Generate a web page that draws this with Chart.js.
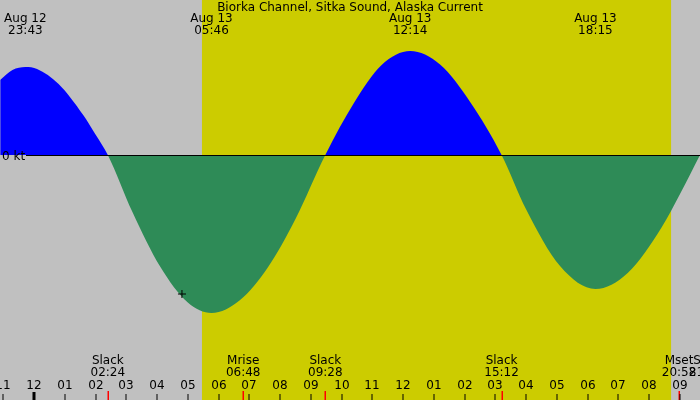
<!DOCTYPE html>
<html>
<head>
<meta charset="utf-8">
<script src="https://cdn.jsdelivr.net/npm/chart.js@4.4.0/dist/chart.umd.min.js"></script>
<style>
  html, body { margin: 0; padding: 0; background: #c0c0c0; }
  #wrap { width: 700px; height: 400px; }
</style>
</head>
<body>
<div id="wrap"><canvas id="tideChart" width="700" height="400"></canvas></div>
<script>
// Hours from midnight Aug 13, current speed in knots
const hours = [-1.1, -0.7, -0.28, 0.1, 0.8, 1.6, 2.0, 2.4, 3.2, 4.1, 5.0, 5.77, 6.7, 7.6, 8.5, 9.47,
               10.4, 11.3, 12.23, 13.2, 14.2, 15.2, 16.0, 17.1, 18.25, 19.3, 20.4, 21.0, 21.65];
const knots = [1.5, 1.7, 1.76, 1.72, 1.42, 0.8, 0.41, 0, -1.14, -2.23, -2.95, -3.16, -2.9, -2.25, -1.28, 0,
               1.04, 1.8, 2.08, 1.81, 1.04, 0, -1.09, -2.22, -2.68, -2.36, -1.45, -0.78, 0];

// extremes shown along the top
const peakHours = [-0.28, 5.77, 12.23, 18.25];
const peakLabels = [['Aug 12', '23:43'], ['Aug 13', '05:46'], ['Aug 13', '12:14'], ['Aug 13', '18:15']];

// events along the bottom
const eventHours = [2.4, 6.8, 9.47, 15.2, 20.97, 21.85];
const eventLabels = [['Slack', '02:24'], ['Mrise', '06:48'], ['Slack', '09:28'], ['Slack', '15:12'], ['Mset', '20:58'], ['Sset', '21:51']];

const sunrise = 5.46, sunset = 20.71;
const markerHour = 4.81, markerKnots = -2.78;
const title = 'Biorka Channel, Sitka Sound, Alaska Current';

const FONT = '12px "DejaVu Sans", sans-serif';

const decor = {
  id: 'decor',
  beforeDatasetsDraw(chart) {
    const c = chart.ctx, x = chart.scales.x;
    c.save();
    c.fillStyle = '#c0c0c0';
    c.fillRect(0, 0, 700, 400);
    c.fillStyle = '#cccc00';
    const a = x.getPixelForValue(sunrise), b = x.getPixelForValue(sunset);
    c.fillRect(a, 0, b - a, 400);
    c.restore();
  },
  afterDatasetsDraw(chart) {
    const c = chart.ctx, x = chart.scales.x, y = chart.scales.y;
    c.save();
    const y0 = Math.round(y.getPixelForValue(0)) + 0.5;
    c.strokeStyle = '#000';
    c.lineWidth = 1;
    c.beginPath(); c.moveTo(26, y0); c.lineTo(700, y0); c.stroke();

    c.font = FONT;
    c.fillStyle = '#000';
    c.textBaseline = 'middle';
    c.textAlign = 'left';
    c.fillText('0 kt', 2, y0 + 1);
    c.textAlign = 'center';
    c.fillText(title, 350, 8);
    peakHours.forEach((h, i) => {
      const px = x.getPixelForValue(h);
      c.fillText(peakLabels[i][0], px, 19);
      c.fillText(peakLabels[i][1], px, 31);
    });
    eventHours.forEach((h, i) => {
      const px = x.getPixelForValue(h);
      c.fillText(eventLabels[i][0], px, 361);
      c.fillText(eventLabels[i][1], px, 373);
      c.fillStyle = '#ff0000';
      c.fillRect(Math.round(px) - 0.5, 391, 1.5, 9);
      c.fillStyle = '#000';
    });
    for (let h = -1; h <= 21; h++) {
      const px = Math.round(x.getPixelForValue(h));
      const lab = String(((h + 23) % 12) + 1).padStart(2, '0');
      c.fillText(lab, px, 386);
      if (h === 0) c.fillRect(px - 1.5, 392, 3, 8);
      else c.fillRect(px - 0.5, 394, 1, 6);
    }
    // marker
    const mx = x.getPixelForValue(markerHour), my = y.getPixelForValue(markerKnots);
    c.lineWidth = 1;
    c.beginPath();
    c.moveTo(mx - 4, my); c.lineTo(mx + 4, my);
    c.moveTo(mx, my - 4); c.lineTo(mx, my + 4);
    c.stroke();
    c.restore();
  }
};

new Chart(document.getElementById('tideChart'), {
  type: 'line',
  data: {
    datasets: [{
      data: hours.map((h, i) => ({ x: h, y: knots[i] })),
      borderWidth: 0,
      pointRadius: 0,
      cubicInterpolationMode: 'monotone',
      fill: { target: 'origin', above: '#0000ff', below: '#2e8b57' }
    }]
  },
  options: {
    responsive: false,
    animation: false,
    layout: { padding: 0 },
    plugins: { legend: { display: false }, tooltip: { enabled: false } },
    scales: {
      x: { type: 'linear', display: false, min: -1.105, max: 21.65 },
      y: { display: false, min: -4.9, max: 3.1 }
    }
  },
  plugins: [decor]
});
</script>
</body>
</html>
